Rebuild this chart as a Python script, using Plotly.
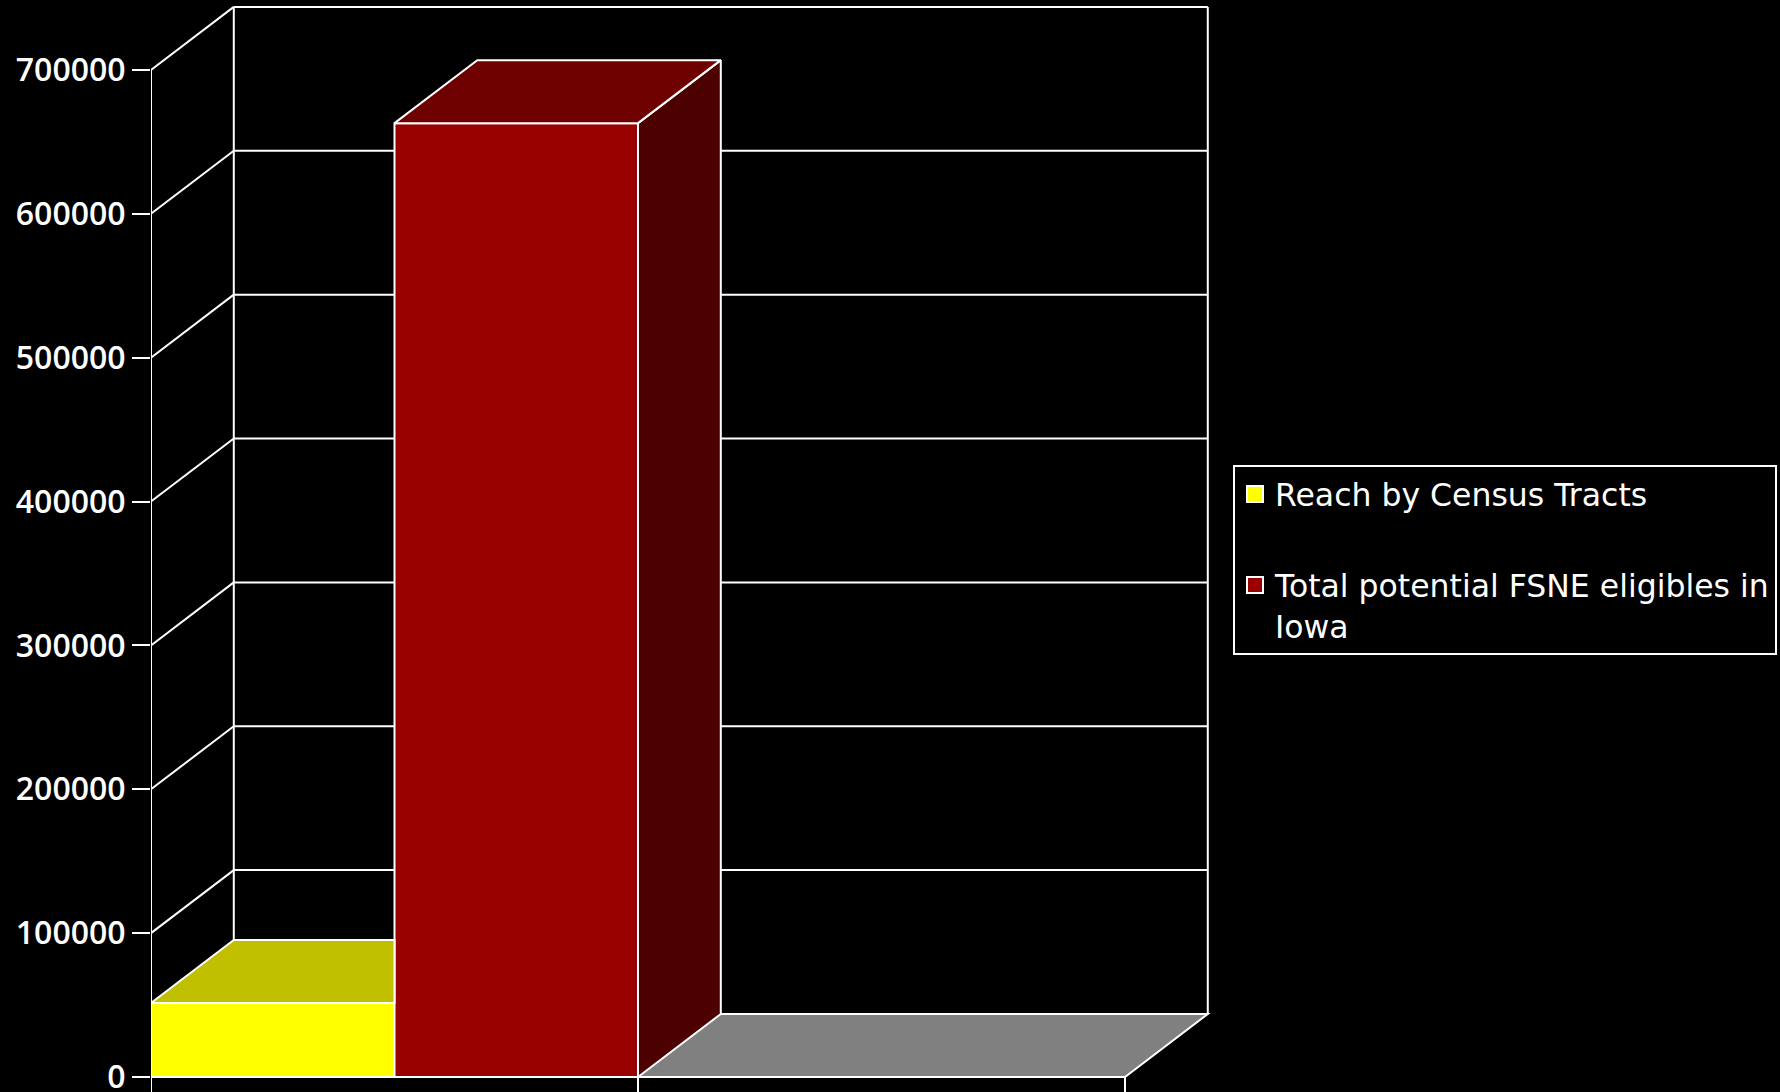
import plotly.graph_objects as go

# ---- data -------------------------------------------------------------
series_names = ["Reach by Census Tracts", "Total potential FSNE eligibles in<br>Iowa"]
series_values = [51500, 663000]
front_colors = ["#FFFF00", "#990000"]
top_colors = ["#C0C000", "#6E0000"]
side_colors = ["#A0A000", "#4D0000"]
n_category_slots = 2          # one filled slot plus an empty one
y_tick_values = [0, 100000, 200000, 300000, 400000, 500000, 600000, 700000]

# ---- 3-D look ---------------------------------------------------------
bar_width = 0.5               # each series takes half a category slot
depth_x = 0.17                # depth offset in category units
depth_y = 43800               # depth offset in value units
y_top = y_tick_values[-1]
edge = dict(color="white", width=2)

fig = go.Figure()
shapes = []


def seg(x0, y0, x1, y1):
    return dict(type="line", xref="x", yref="y", x0=x0, y0=y0, x1=x1, y1=y1,
                line=edge, layer="below")


# floor
shapes.append(dict(type="path", xref="x", yref="y", layer="below",
                   path=f"M 0 0 L {n_category_slots} 0 L {n_category_slots + depth_x} {depth_y} "
                        f"L {depth_x} {depth_y} Z",
                   fillcolor="#808080", line=edge))
# back-wall gridlines and side-wall diagonals
for v in y_tick_values:
    shapes.append(seg(depth_x, v + depth_y, n_category_slots + depth_x, v + depth_y))
    shapes.append(seg(0, v, depth_x, v + depth_y))
# wall edges and front value axis
shapes.append(seg(depth_x, depth_y, depth_x, y_top + depth_y))
shapes.append(seg(n_category_slots + depth_x, depth_y, n_category_slots + depth_x, y_top + depth_y))
shapes.append(seg(0, 0, 0, y_top))
shapes.append(seg(0, 0, n_category_slots, 0))
# category ticks hanging below the baseline
for k in range(n_category_slots + 1):
    shapes.append(seg(k, 0, k, -40000))

# front faces of the bars
for i, (name, val) in enumerate(zip(series_names, series_values)):
    fig.add_trace(go.Bar(
        x=[(i + 0.5) * bar_width], y=[val], width=bar_width,
        marker=dict(color=front_colors[i], line=edge),
        showlegend=False, hoverinfo="skip"))

# top and side faces
for i, val in enumerate(series_values):
    x0 = i * bar_width
    x1 = x0 + bar_width
    taller_right = i + 1 < len(series_values) and series_values[i + 1] >= val
    if taller_right:
        tx = [x0, x1, x1, x0 + depth_x, x0]
        ty = [val, val, val + depth_y, val + depth_y, val]
    else:
        tx = [x0, x1, x1 + depth_x, x0 + depth_x, x0]
        ty = [val, val, val + depth_y, val + depth_y, val]
        fig.add_trace(go.Scatter(
            x=[x1, x1 + depth_x, x1 + depth_x, x1, x1],
            y=[0, depth_y, val + depth_y, val, 0],
            mode="lines", fill="toself", fillcolor=side_colors[i], line=edge,
            showlegend=False, hoverinfo="skip"))
    fig.add_trace(go.Scatter(
        x=tx, y=ty, mode="lines", fill="toself", fillcolor=top_colors[i], line=edge,
        showlegend=False, hoverinfo="skip"))

# legend entries
for i, name in enumerate(series_names):
    fig.add_trace(go.Scatter(
        x=[None], y=[None], mode="markers", name=name, legendgroup=f"g{i}",
        marker=dict(symbol="square", size=16, color=front_colors[i],
                    line=dict(color="white", width=2))))

plot_left = 151
fig_w, fig_h = 1780, 1092
fig.update_layout(
    width=fig_w, height=fig_h,
    margin=dict(l=plot_left, r=0, t=0, b=0, autoexpand=False),
    paper_bgcolor="black", plot_bgcolor="black",
    barmode="overlay",
    shapes=shapes,
    xaxis=dict(range=[0, (fig_w - plot_left) / 487.0], visible=False),
    yaxis=dict(range=[-10430, 748600], tickvals=y_tick_values,
               ticktext=[str(v) for v in y_tick_values],
               ticks="outside", ticklen=18, tickwidth=2, tickcolor="white",
               showgrid=False, zeroline=False, showline=False,
               ticklabeloverflow="allow",
               tickfont=dict(family="Open Sans", size=32, color="white", weight=600)),
    legend=dict(x=(1233 - plot_left) / (fig_w - plot_left), y=1 - 465 / fig_h,
                xanchor="left", yanchor="top",
                bgcolor="black", bordercolor="white", borderwidth=2,
                font=dict(family="DejaVu Sans", size=31.5, color="white"),
                valign="top", traceorder="grouped", tracegroupgap=47),
    font=dict(family="Open Sans", color="white"),
)

fig.write_html("out.html")
